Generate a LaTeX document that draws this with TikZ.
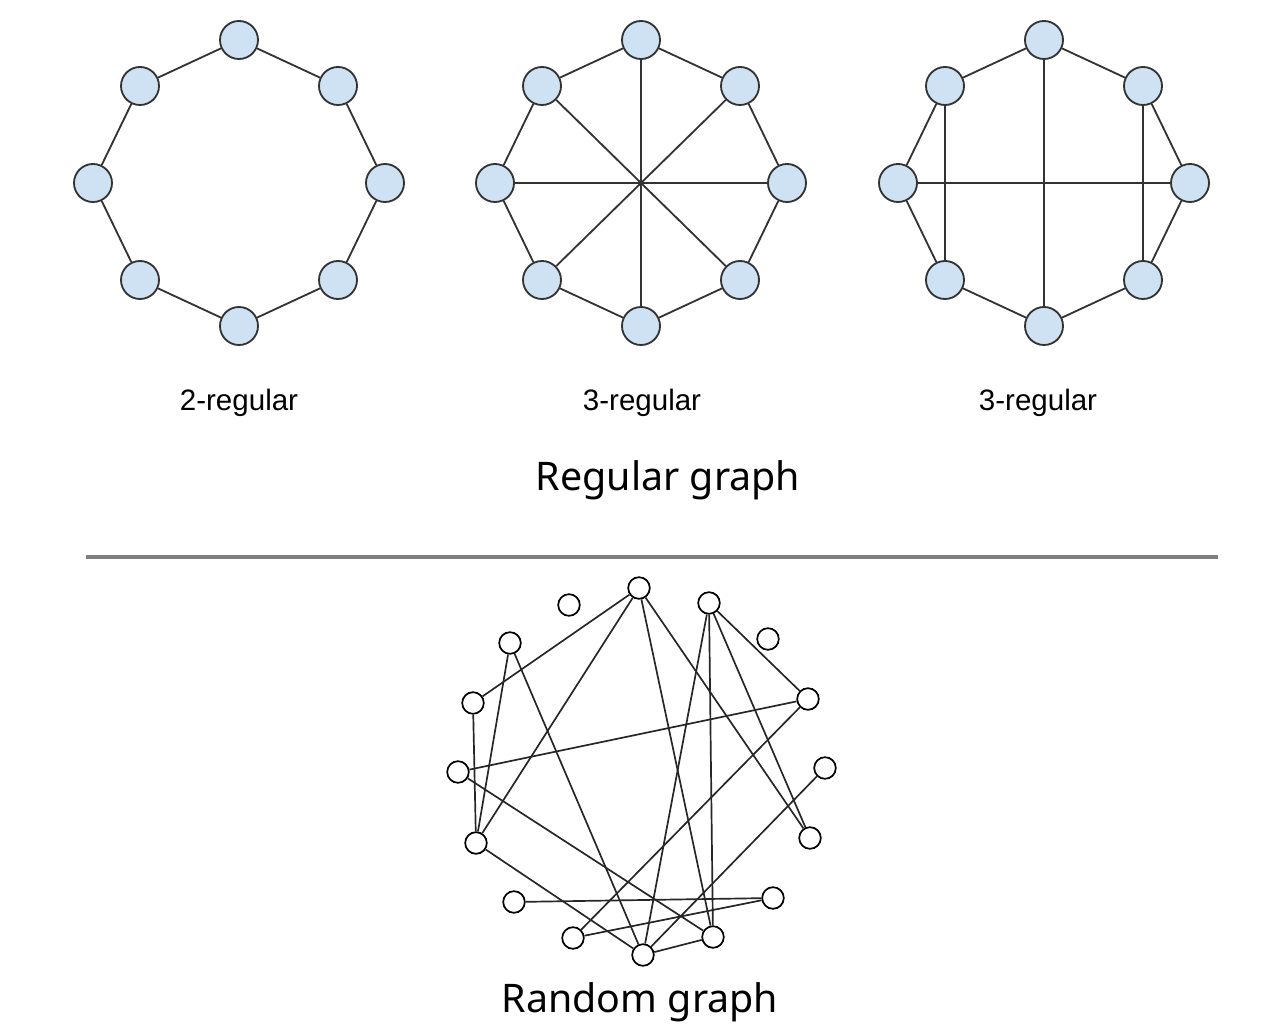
\documentclass[tikz,border=0pt]{standalone}
\usepackage{fontspec}
\setmainfont{Liberation Sans}
\newfontfamily\titlefont{Noto Sans}
\usetikzlibrary{positioning}
\definecolor{nodeblue}{HTML}{CFE2F3}
\definecolor{rimgray}{HTML}{333333}
\definecolor{rulegray}{HTML}{7F7F7F}
\tikzset{
    regnode/.style = {circle, draw=rimgray, line width=1.3pt, fill=nodeblue, minimum size=0.95cm, inner sep=0pt},
    randnode/.style = {circle, draw=black, line width=1.2pt, fill=white, minimum size=0.54cm, inner sep=0pt},
    edgen/.style = {line width=1.3pt, draw=rimgray},
    edger/.style = {line width=1.2pt, draw=black!85},
    sublabel/.style = {font=\fontsize{21}{25}\selectfont},
    titlelabel/.style = {font=\titlefont\fontsize{28}{34}\selectfont}
}

\begin{document}
\begin{tikzpicture}[x=0.025cm, y=-0.025cm]
\useasboundingbox (0,0) rectangle (1264,1036);
%
% three regular graphs
\foreach \g/\cx in {a/239, b/641, c/1044} {
  \foreach \i/\dx/\dy in {1/0/-143, 2/99/-97, 3/146/0, 4/99/97, 5/0/143, 6/-99/97, 7/-146/0, 8/-99/-97}
    \node[regnode] (\g\i) at (\cx+\dx, 183+\dy) {};
  \draw[edgen] (\g1) -- (\g2) -- (\g3) -- (\g4) -- (\g5) -- (\g6) -- (\g7) -- (\g8) -- (\g1);
}
\draw[edgen] (b1) -- (b5);
\draw[edgen] (b2) -- (b6);
\draw[edgen] (b3) -- (b7);
\draw[edgen] (b4) -- (b8);
\draw[edgen] (c1) -- (c5);
\draw[edgen] (c3) -- (c7);
\draw[edgen] (c2) -- (c4);
\draw[edgen] (c8) -- (c6);
%
\node[sublabel] (lab2) at (239, 403) {2-regular};
\node[sublabel] (lab3a) at (642, 403) {3-regular};
\node[sublabel] (lab3b) at (1038, 403) {3-regular};
\node[titlelabel] (regtitle) at (668, 480) {Regular graph};
%
\draw[rulegray, line width=2.2pt] (86,557) -- (1218,557);
%
% random graph
\node[randnode] at (569, 605) (r1) {};
\node[randnode] at (639, 588) (r2) {};
\node[randnode] at (709, 603) (r3) {};
\node[randnode] at (768, 639) (r4) {};
\node[randnode] at (510, 643) (r5) {};
\node[randnode] at (473, 703) (r6) {};
\node[randnode] at (808, 699) (r7) {};
\node[randnode] at (825, 768) (r8) {};
\node[randnode] at (458, 772) (r9) {};
\node[randnode] at (476, 843) (r10) {};
\node[randnode] at (810, 838) (r11) {};
\node[randnode] at (514, 902) (r12) {};
\node[randnode] at (773, 898) (r13) {};
\node[randnode] at (573, 938) (r14) {};
\node[randnode] at (643, 955) (r15) {};
\node[randnode] at (713, 937) (r16) {};
%
\foreach \u/\v in {2/6, 2/10, 2/16, 2/11, 3/15, 3/16, 3/11, 3/7, 7/9, 7/14,
                   5/10, 5/15, 6/10, 9/16, 10/15, 12/13, 13/14, 15/16, 8/15}
  \draw[edger] (r\u) -- (r\v);
%
\node[titlelabel] (randtitle) at (640, 1002) {Random graph};
\end{tikzpicture}
\end{document}
